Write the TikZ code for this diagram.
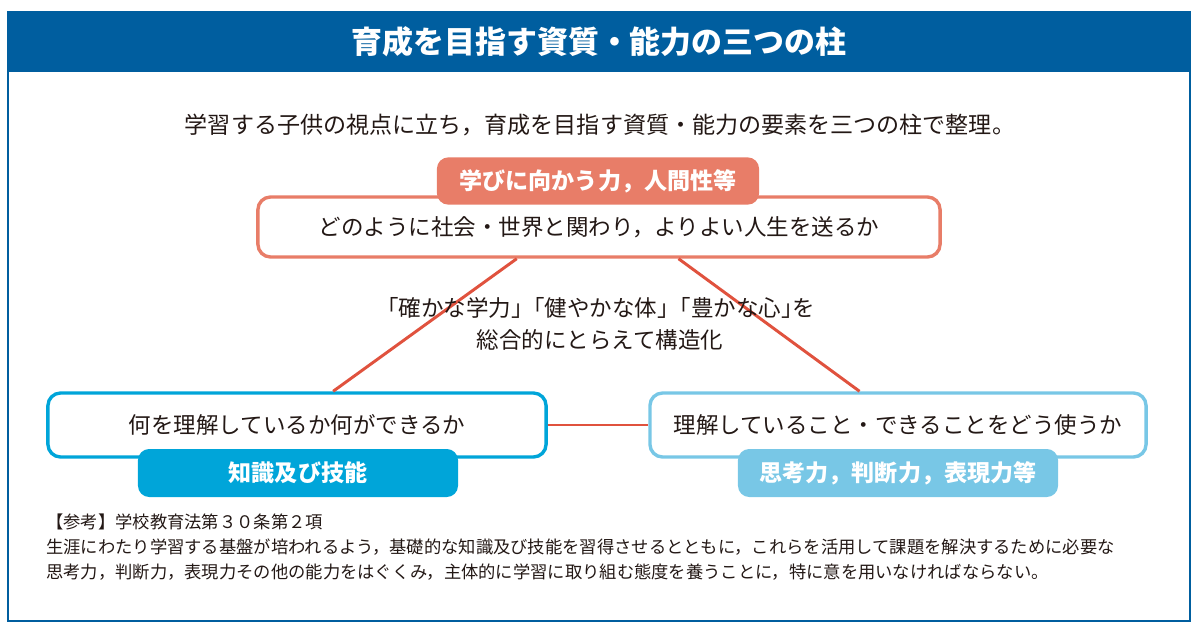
\documentclass[tikz,border=0pt]{standalone}
\usepackage{fontspec}
\setmainfont{Noto Sans CJK JP}
\usepackage{tikz}
\usetikzlibrary{calc}
\definecolor{MXBlue}{RGB}{0,94,159}
\definecolor{MXCoral}{RGB}{232,125,104}
\definecolor{MXCyan}{RGB}{0,165,217}
\definecolor{MXSky}{RGB}{120,199,230}
\definecolor{MXRed}{RGB}{224,82,62}
\definecolor{MXInk}{RGB}{35,24,21}

\begin{document}
\begin{tikzpicture}[x=0.025cm, y=-0.025cm,
      pillar/.style={rectangle, rounded corners=9pt, fill=white,
                     line width=2.4pt, text=MXInk,
                     font=\fontsize{16}{19}\selectfont},
      tag/.style={rectangle, rounded corners=8pt, text=white,
                  minimum width=8cm, minimum height=1.2cm,
                  font=\bfseries\fontsize{16.4}{19}\selectfont},
      link/.style={MXRed, line width=2.1pt}
    ]
    \useasboundingbox (0,0) rectangle (1198,633);
    % frame and title bar
    \fill[MXBlue] (8,12) rectangle (1190,72);
    \draw[MXBlue, line width=1.5pt] (8,12) rectangle (1190,621);
    \node[font=\bfseries\fontsize{22}{26}\selectfont, text=white] (title) at (599,42)
          {育成を目指す資質・能力の三つの柱};
    \node[font=\fontsize{16.4}{19}\selectfont, text=MXInk] (lead) at (600,125)
          {学習する子供の視点に立ち，育成を目指す資質・能力の要素を三つの柱で整理。};

    % the three pillars
    \node[pillar, draw=MXCoral, minimum width=17.05cm, minimum height=1.5cm] (top) at (599,227)
          {どのように社会・世界と関わり，よりよい人生を送るか};
    \node[pillar, draw=MXCyan, minimum width=12.45cm, minimum height=1.6cm] (know) at (297,425)
          {何を理解しているか何ができるか};
    \node[pillar, draw=MXSky, minimum width=12.4cm, minimum height=1.6cm] (think) at (898,425)
          {理解していること・できることをどう使うか};

    % connectors
    \draw[link] ($(top.south west)!0.38!(top.south east)$) -- ($(know.north west)!0.572!(know.north east)$);
    \draw[link] ($(top.south west)!0.616!(top.south east)$) -- ($(think.north west)!0.423!(think.north east)$);
    \draw[link] (know.east) -- (think.west);

    % tags
    \node[tag, fill=MXCoral, minimum width=8.05cm, minimum height=1.18cm] (topTag) at (598,181)
          {学びに向かう力，人間性等};
    \node[tag, fill=MXCyan] (knowTag) at (298,473) {知識及び技能};
    \node[tag, fill=MXSky] (thinkTag) at (898,473) {思考力，判断力，表現力等};

    \node[font=\fontsize{16}{22.5}\selectfont, text=MXInk, align=center] (core) at (600,324)
          {\kern-0.4em「確かな学力」\kern-0.5em「健やかな体」\kern-0.5em「豊かな心」\kern-0.5em を\\総合的にとらえて構造化};

    % reference note
    \node[anchor=north west, align=left, inner sep=0pt, text=MXInk,
          font=\fontsize{12.3}{17.8}\selectfont] (note) at (46,514)
          {【参考】学校教育法第３０条第２項\\
           生涯にわたり学習する基盤が培われるよう，基礎的な知識及び技能を習得させるとともに，これらを活用して課題を解決するために必要な\\
           思考力，判断力，表現力その他の能力をはぐくみ，主体的に学習に取り組む態度を養うことに，特に意を用いなければならない。};
\end{tikzpicture}
\end{document}
